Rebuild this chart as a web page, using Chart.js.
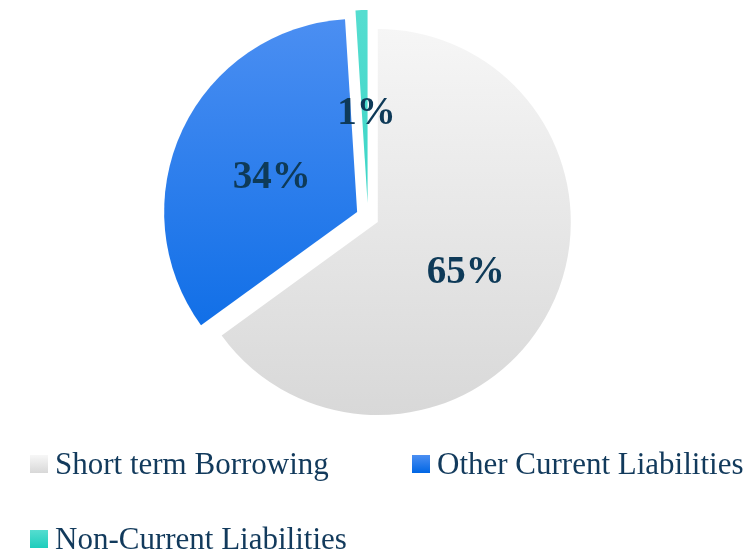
<!DOCTYPE html>
<html>
<head>
<meta charset="utf-8">
<script src="https://cdn.jsdelivr.net/npm/chart.js@4.4.1/dist/chart.umd.min.js"></script>
<style>
  body { margin: 0; background: #fff; }
  #wrap { position: relative; width: 745px; height: 556px; }
  #legend {
    position: absolute; left: 30px; top: 446px;
    display: grid; grid-template-columns: 382px auto;
    grid-auto-rows: 36px; row-gap: 39px;
  }
  .item {
    display: flex; align-items: center; height: 36px; line-height: 36px;
    font: 31px "Liberation Serif", serif; color: #123a5c; white-space: nowrap;
  }
  .box { width: 18px; height: 18px; margin-right: 7px; flex: none; }
</style>
</head>
<body>
<div id="wrap">
  <canvas id="liabPie" width="745" height="556"></canvas>
  <div id="legend"></div>
</div>
<script>
var labels = ["Short term Borrowing", "Other Current Liabilities", "Non-Current Liabilities"];
var values = [65, 34, 1];
var explode = [11, 12, 14];

// top / bottom shades of each slice
var sliceStops = [
    ["#f7f7f7", "#d8d8d8"],
    ["#4c8ff2", "#0066e4"],
    ["#55ddd0", "#1ecdbc"]
];

function sliceFill(context) {
    var area = context.chart.chartArea;
    var stops = sliceStops[context.dataIndex];
    if (!area) return stops[0];
    var g = context.chart.ctx.createLinearGradient(0, area.top - 10, 0, area.bottom + 6);
    g.addColorStop(0, stops[0]);
    g.addColorStop(1, stops[1]);
    return g;
}

// pull every slice out from the centre along its middle angle
var explodeSlices = {
    id: "explodeSlices",
    afterDatasetUpdate: function (chart, args) {
        args.meta.data.forEach(function (arc, i) {
            var mid = (arc.startAngle + arc.endAngle) / 2;
            arc.x += Math.cos(mid) * explode[i];
            arc.y += Math.sin(mid) * explode[i];
        });
    }
};

// percentage text inside each slice
var sliceLabels = {
    id: "sliceLabels",
    afterDatasetsDraw: function (chart) {
        var ctx = chart.ctx;
        var meta = chart.getDatasetMeta(0);
        ctx.save();
        ctx.font = 'bold 39px "Liberation Serif", serif';
        ctx.fillStyle = "#0e3a58";
        ctx.textAlign = "center";
        ctx.textBaseline = "alphabetic";
        meta.data.forEach(function (arc, i) {
            var pos = arc.tooltipPosition(true);
            // baseline sits half a digit height below the slice's label point
            ctx.fillText(values[i] + "%", pos.x + 2, pos.y + 17);
        });
        ctx.restore();
    }
};

new Chart("liabPie", {
    type: "pie",
    data: {
        labels: labels,
        datasets: [{
            data: values,
            backgroundColor: sliceFill,
            borderWidth: 0
        }]
    },
    options: {
        responsive: false,
        animation: false,
        layout: { padding: { top: 24, bottom: 146, left: 0, right: 9 } },
        plugins: {
            legend: { display: false },
            tooltip: { enabled: false }
        }
    },
    plugins: [explodeSlices, sliceLabels]
});

var legendEl = document.getElementById("legend");
labels.forEach(function (name, i) {
    var item = document.createElement("div");
    item.className = "item";
    var box = document.createElement("span");
    box.className = "box";
    box.style.background = "linear-gradient(" + sliceStops[i][0] + ", " + sliceStops[i][1] + ")";
    item.appendChild(box);
    item.appendChild(document.createTextNode(name));
    legendEl.appendChild(item);
});
</script>
</body>
</html>
